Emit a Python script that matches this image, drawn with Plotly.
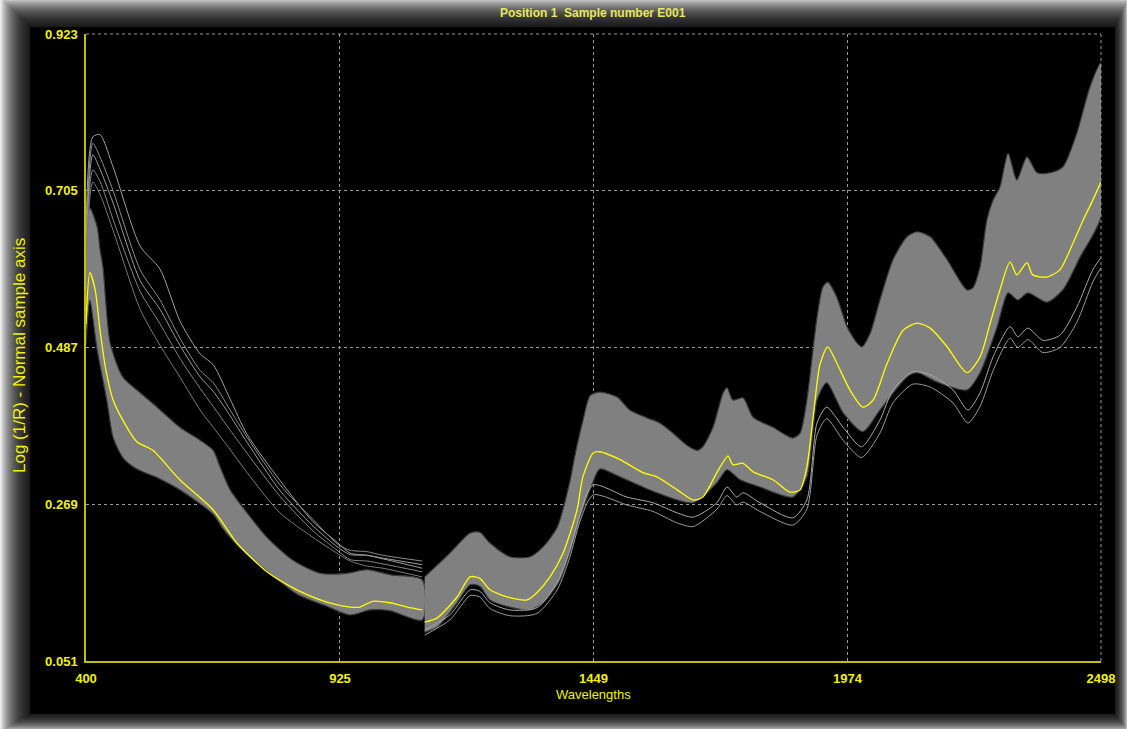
import plotly.graph_objects as go

# ---------------- data (wavelength nm, log(1/R)) ----------------
x_ticks = [400, 925, 1449, 1974, 2498]
y_ticks = [0.051, 0.269, 0.487, 0.705, 0.923]

# gray band of all spectra: upper / lower envelopes, VIS-NIR detector (left) part
band_left_up_wl = [400, 408, 423, 429, 435, 450, 476, 512, 547, 594, 636, 663, 677, 698, 733, 774, 828, 884, 939, 981, 1028, 1095]
band_left_up = [0.640, 0.681, 0.655, 0.623, 0.599, 0.493, 0.446, 0.424, 0.404, 0.376, 0.358, 0.344, 0.321, 0.289, 0.257, 0.223, 0.191, 0.173, 0.173, 0.178, 0.171, 0.164]
band_left_lo_wl = [400, 408, 423, 443, 456, 476, 505, 547, 594, 663, 683, 718, 774, 836, 898, 946, 987, 1028, 1095]
band_left_lo = [0.491, 0.553, 0.484, 0.414, 0.362, 0.334, 0.318, 0.306, 0.289, 0.255, 0.235, 0.208, 0.176, 0.144, 0.127, 0.115, 0.122, 0.121, 0.108]

# gray band, NIR detector (right) part
band_right_up_wl = [1100, 1152, 1194, 1214, 1235, 1276, 1318, 1345, 1374, 1400, 1410, 1427, 1442, 1462, 1498, 1524, 1560, 1586, 1613, 1642, 1663, 1675, 1696, 1717, 1725, 1737, 1758, 1779, 1820, 1861, 1876, 1890, 1911, 1923, 1933, 1952, 1973, 1994, 2004, 2021, 2041, 2068, 2097, 2118, 2145, 2180, 2221, 2233, 2248, 2262, 2275, 2289, 2306, 2324, 2345, 2366, 2393, 2419, 2448, 2475, 2498]
band_right_up = [0.168, 0.201, 0.229, 0.230, 0.215, 0.196, 0.196, 0.210, 0.237, 0.300, 0.335, 0.385, 0.420, 0.425, 0.418, 0.400, 0.389, 0.382, 0.368, 0.351, 0.344, 0.349, 0.376, 0.424, 0.431, 0.414, 0.417, 0.390, 0.376, 0.361, 0.368, 0.414, 0.529, 0.571, 0.578, 0.557, 0.516, 0.493, 0.488, 0.507, 0.553, 0.609, 0.641, 0.648, 0.641, 0.609, 0.567, 0.570, 0.599, 0.664, 0.692, 0.710, 0.757, 0.720, 0.752, 0.730, 0.730, 0.738, 0.785, 0.849, 0.883]
band_right_lo_wl = [1100, 1126, 1167, 1194, 1214, 1235, 1276, 1318, 1345, 1380, 1407, 1427, 1448, 1462, 1504, 1580, 1655, 1704, 1725, 1752, 1793, 1861, 1890, 1911, 1931, 1965, 2006, 2041, 2097, 2118, 2159, 2221, 2248, 2283, 2306, 2326, 2347, 2386, 2419, 2455, 2498]
band_right_lo = [0.091, 0.098, 0.132, 0.157, 0.155, 0.136, 0.126, 0.122, 0.132, 0.164, 0.215, 0.261, 0.300, 0.318, 0.307, 0.285, 0.271, 0.299, 0.317, 0.303, 0.293, 0.279, 0.307, 0.414, 0.438, 0.396, 0.370, 0.400, 0.446, 0.452, 0.439, 0.428, 0.452, 0.515, 0.563, 0.553, 0.563, 0.550, 0.567, 0.613, 0.669]

# mean spectrum (yellow)
mean_left_wl = [400, 408, 419, 429, 441, 456, 476, 505, 538, 594, 663, 712, 774, 836, 898, 946, 966, 993, 1028, 1064, 1095]
mean_left = [0.520, 0.591, 0.567, 0.511, 0.456, 0.414, 0.386, 0.356, 0.344, 0.303, 0.261, 0.215, 0.175, 0.150, 0.133, 0.126, 0.126, 0.134, 0.132, 0.126, 0.122]
mean_right_wl = [1100, 1126, 1167, 1194, 1214, 1235, 1276, 1312, 1332, 1359, 1386, 1415, 1427, 1448, 1462, 1504, 1551, 1580, 1622, 1655, 1675, 1704, 1727, 1737, 1758, 1779, 1820, 1855, 1876, 1890, 1903, 1917, 1933, 1952, 1979, 2006, 2027, 2056, 2089, 2118, 2145, 2180, 2221, 2248, 2269, 2289, 2310, 2324, 2345, 2357, 2386, 2413, 2440, 2461, 2481, 2498]
mean_right = [0.105, 0.111, 0.140, 0.168, 0.166, 0.150, 0.139, 0.136, 0.146, 0.168, 0.201, 0.261, 0.307, 0.340, 0.342, 0.331, 0.313, 0.307, 0.289, 0.275, 0.279, 0.313, 0.336, 0.324, 0.326, 0.314, 0.303, 0.286, 0.289, 0.321, 0.390, 0.463, 0.488, 0.465, 0.428, 0.404, 0.414, 0.465, 0.511, 0.521, 0.514, 0.488, 0.452, 0.474, 0.521, 0.567, 0.606, 0.588, 0.605, 0.588, 0.585, 0.595, 0.632, 0.664, 0.692, 0.717]

# outlier spectra above the band (visible range)
up_wl = [400, 414, 429, 456, 512, 553, 594, 636, 663, 698, 733, 801, 869, 921, 946, 981, 1014, 1095]
outlier_up1 = [0.643, 0.780, 0.783, 0.738, 0.628, 0.596, 0.524, 0.478, 0.463, 0.415, 0.366, 0.302, 0.245, 0.215, 0.201, 0.198, 0.194, 0.185]
outlier_up2 = [0.630, 0.771, 0.752, 0.705, 0.595, 0.553, 0.500, 0.455, 0.438, 0.400, 0.362, 0.296, 0.248, 0.213, 0.205, 0.203, 0.198, 0.190]
outlier_up3 = [0.620, 0.755, 0.735, 0.688, 0.580, 0.540, 0.490, 0.446, 0.426, 0.392, 0.355, 0.288, 0.239, 0.209, 0.199, 0.198, 0.193, 0.180]
outlier_up4 = [0.615, 0.734, 0.718, 0.665, 0.565, 0.520, 0.472, 0.430, 0.405, 0.372, 0.340, 0.280, 0.232, 0.204, 0.192, 0.190, 0.186, 0.175]
outlier_up5 = [0.609, 0.717, 0.700, 0.650, 0.540, 0.490, 0.446, 0.400, 0.376, 0.345, 0.313, 0.257, 0.223, 0.200, 0.190, 0.183, 0.180, 0.168]

# outlier spectra below the band (NIR range)
lo_wl = [1100, 1152, 1194, 1214, 1235, 1276, 1332, 1374, 1400, 1421, 1448, 1518, 1572, 1622, 1655, 1704, 1725, 1745, 1758, 1793, 1861, 1890, 1911, 1931, 1965, 2003, 2041, 2068, 2109, 2145, 2192, 2223, 2248, 2275, 2310, 2326, 2347, 2378, 2413, 2448, 2481, 2498]
outlier_lo1 = [0.094, 0.115, 0.150, 0.148, 0.132, 0.122, 0.125, 0.160, 0.205, 0.255, 0.296, 0.279, 0.271, 0.257, 0.251, 0.271, 0.293, 0.279, 0.285, 0.271, 0.250, 0.275, 0.382, 0.404, 0.376, 0.349, 0.386, 0.428, 0.453, 0.449, 0.428, 0.400, 0.424, 0.474, 0.516, 0.502, 0.514, 0.497, 0.504, 0.543, 0.595, 0.612]
outlier_lo2 = [0.087, 0.108, 0.142, 0.140, 0.124, 0.114, 0.117, 0.150, 0.195, 0.245, 0.282, 0.268, 0.259, 0.243, 0.238, 0.262, 0.281, 0.268, 0.272, 0.259, 0.240, 0.262, 0.365, 0.388, 0.358, 0.334, 0.368, 0.410, 0.436, 0.432, 0.410, 0.382, 0.405, 0.455, 0.500, 0.487, 0.498, 0.480, 0.487, 0.522, 0.578, 0.598]

title_text = "Position 1  Sample number E001"
x_title = "Wavelengths"
y_title = "Log (1/R) - Normal sample axis"

# ---------------- figure ----------------
W, H = 1127, 729
PL, PR, PT, PB = 86, 1101, 34, 661          # plot area in window pixels
L, R, T, B = PL, W - PR, PT, H - PB
YEL = "#f2f200"
SANS = "Liberation Sans, Arial, sans-serif"
SMOOTH = 0.7

fig = go.Figure()

def band(xu, yu, xl, yl):
    fig.add_trace(go.Scatter(
        x=list(xu) + list(xl)[::-1], y=list(yu) + list(yl)[::-1],
        mode="lines", fill="toself", fillcolor="#808080",
        line=dict(color="#3a3a3a", width=1.2, shape="spline", smoothing=SMOOTH),
        hoverinfo="skip", showlegend=False))

band(band_left_up_wl, band_left_up, band_left_lo_wl, band_left_lo)
band(band_right_up_wl, band_right_up, band_right_lo_wl, band_right_lo)

for ys, c in [(outlier_up1, "#a0a0a0"), (outlier_up2, "#8c8c8c"), (outlier_up3, "#9a9a9a"),
              (outlier_up4, "#858585"), (outlier_up5, "#7a7a7a")]:
    fig.add_trace(go.Scatter(x=up_wl, y=ys, mode="lines",
                             line=dict(color=c, width=1, shape="spline", smoothing=SMOOTH),
                             hoverinfo="skip", showlegend=False))

for ys, c in [(outlier_lo1, "#a8a8a8"), (outlier_lo2, "#9a9a9a")]:
    fig.add_trace(go.Scatter(x=lo_wl, y=ys, mode="lines",
                             line=dict(color=c, width=1, shape="spline", smoothing=SMOOTH),
                             hoverinfo="skip", showlegend=False))

for xs, ys in [(mean_left_wl, mean_left), (mean_right_wl, mean_right)]:
    fig.add_trace(go.Scatter(x=xs, y=ys, mode="lines",
                             line=dict(color="#ffff00", width=1.3, shape="spline", smoothing=SMOOTH),
                             hoverinfo="skip", showlegend=False))

# helpers: window pixel -> paper coordinates
pw, ph = PR - PL, PB - PT
def xp(px):
    return (px - PL) / pw
def yp(py):
    return (PB - py) / ph

# window frame with a soft drop shadow
shapes = []
for k in range(30, 0, -1):
    shapes.append(dict(type="rect", xref="paper", yref="paper",
                       x0=xp(30 - k), x1=xp(1115 + k * 0.45),
                       y0=yp(714 + k * 0.6), y1=yp(27 - k),
                       fillcolor="black", opacity=0.065, line=dict(width=0), layer="below"))
shapes.append(dict(type="rect", xref="paper", yref="paper",
                   x0=xp(30), x1=xp(1115), y0=yp(714), y1=yp(27),
                   fillcolor="black", line=dict(width=0), layer="below"))
# dotted grid lines at the top and right range ends
shapes.append(dict(type="line", xref="paper", yref="paper", x0=0, x1=1, y0=1, y1=1,
                   line=dict(color="#9a9a9a", width=1, dash="3px,3px")))
shapes.append(dict(type="line", xref="paper", yref="paper", x0=1, x1=1, y0=0, y1=1,
                   line=dict(color="#9a9a9a", width=1, dash="3px,3px")))

annotations = [
    dict(text=x_title, xref="paper", yref="paper", x=xp(593), y=yp(694),
         xanchor="center", yanchor="middle", showarrow=False,
         font=dict(family=SANS, size=13, color=YEL)),
    dict(text=y_title, xref="paper", yref="paper", x=xp(20), y=yp(356), textangle=-90,
         xanchor="center", yanchor="middle", showarrow=False,
         font=dict(family=SANS, size=17, color=YEL)),
    dict(text=title_text, xref="paper", yref="paper", x=xp(593), y=yp(13),
         xanchor="center", yanchor="middle", showarrow=False,
         font=dict(family=SANS, size=12, color="#e8e858", weight="bold")),
]

fig.update_layout(
    width=W, height=H,
    margin=dict(l=L, r=R, t=T, b=B),
    paper_bgcolor="white", plot_bgcolor="black",
    shapes=shapes, annotations=annotations,
    xaxis=dict(range=[400, 2498], tickvals=x_ticks, ticktext=[str(v) for v in x_ticks],
               showline=True, linecolor="#c0c000", linewidth=1.5,
               showgrid=True, gridcolor="#9a9a9a", gridwidth=1, griddash="3px,3px",
               zeroline=False, ticks="", ticklabelstandoff=5,
               tickfont=dict(family=SANS, size=13, color=YEL, weight="bold"),
               automargin=False),
    yaxis=dict(range=[0.051, 0.923], tickvals=y_ticks, ticktext=["%.3f" % v for v in y_ticks],
               showline=True, linecolor="#c0c000", linewidth=1.5,
               showgrid=True, gridcolor="#9a9a9a", gridwidth=1, griddash="3px,3px",
               zeroline=False, ticks="", ticklabelstandoff=4,
               tickfont=dict(family=SANS, size=13, color=YEL, weight="bold"),
               automargin=False),
)

# the page body has a default 8px margin; remove it so the figure fills the window
fig.write_html("out.html", config={"displayModeBar": False},
               post_script="document.body.style.margin='0px';document.body.style.overflow='hidden';")
